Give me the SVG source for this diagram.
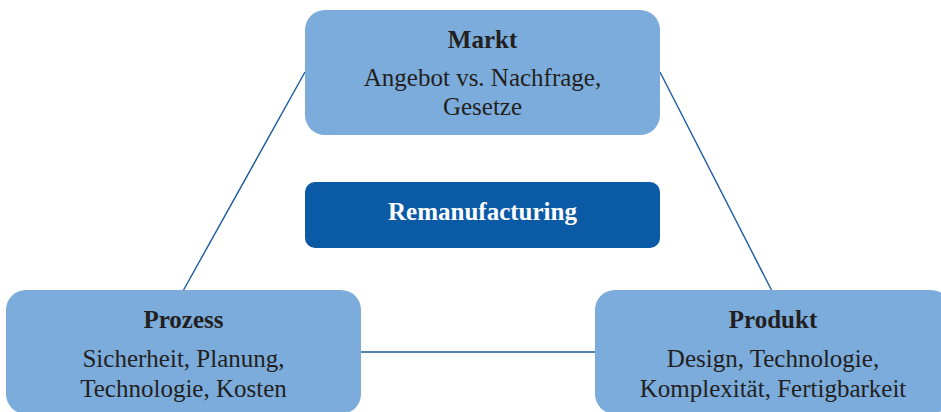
<svg xmlns="http://www.w3.org/2000/svg" width="941" height="412" viewBox="0 0 941 412">
<style>
.box{fill:#7BACDB;}
.core{fill:#0B5AA5;}
.t{font-family:"Liberation Serif","Times New Roman",serif;font-size:25px;fill:#231F20;text-anchor:middle;}
.b{font-weight:bold;}
.w{fill:#FFFFFF;}
.c{stroke:#1C5A9E;stroke-width:1.4;fill:none;}
</style>
<rect width="941" height="412" fill="#FFFFFF"/>
<g id="connectors">
<line class="c" x1="305" y1="72" x2="183" y2="291"/>
<line class="c" x1="660" y1="72" x2="772" y2="291"/>
<line class="c" x1="361" y1="352" x2="596" y2="352"/>
</g>
<g id="markt">
<rect class="box" x="305" y="10" width="355" height="125" rx="20"/>
<text class="t b" x="482.5" y="48">Markt</text>
<text class="t" x="482.5" y="86">Angebot vs. Nachfrage,</text>
<text class="t" x="482.5" y="115">Gesetze</text>
</g>
<g id="remanufacturing">
<rect class="core" x="305" y="182" width="355" height="66" rx="10"/>
<text class="t b w" x="482.5" y="220">Remanufacturing</text>
</g>
<g id="prozess">
<rect class="box" x="6" y="290" width="355" height="124" rx="20"/>
<text class="t b" x="183.5" y="328">Prozess</text>
<text class="t" x="183.5" y="367">Sicherheit, Planung,</text>
<text class="t" x="183.5" y="397">Technologie, Kosten</text>
</g>
<g id="produkt">
<rect class="box" x="595" y="290" width="356" height="124" rx="20"/>
<text class="t b" x="773" y="328">Produkt</text>
<text class="t" x="773" y="367">Design, Technologie,</text>
<text class="t" x="773" y="397">Komplexität, Fertigbarkeit</text>
</g>
</svg>
